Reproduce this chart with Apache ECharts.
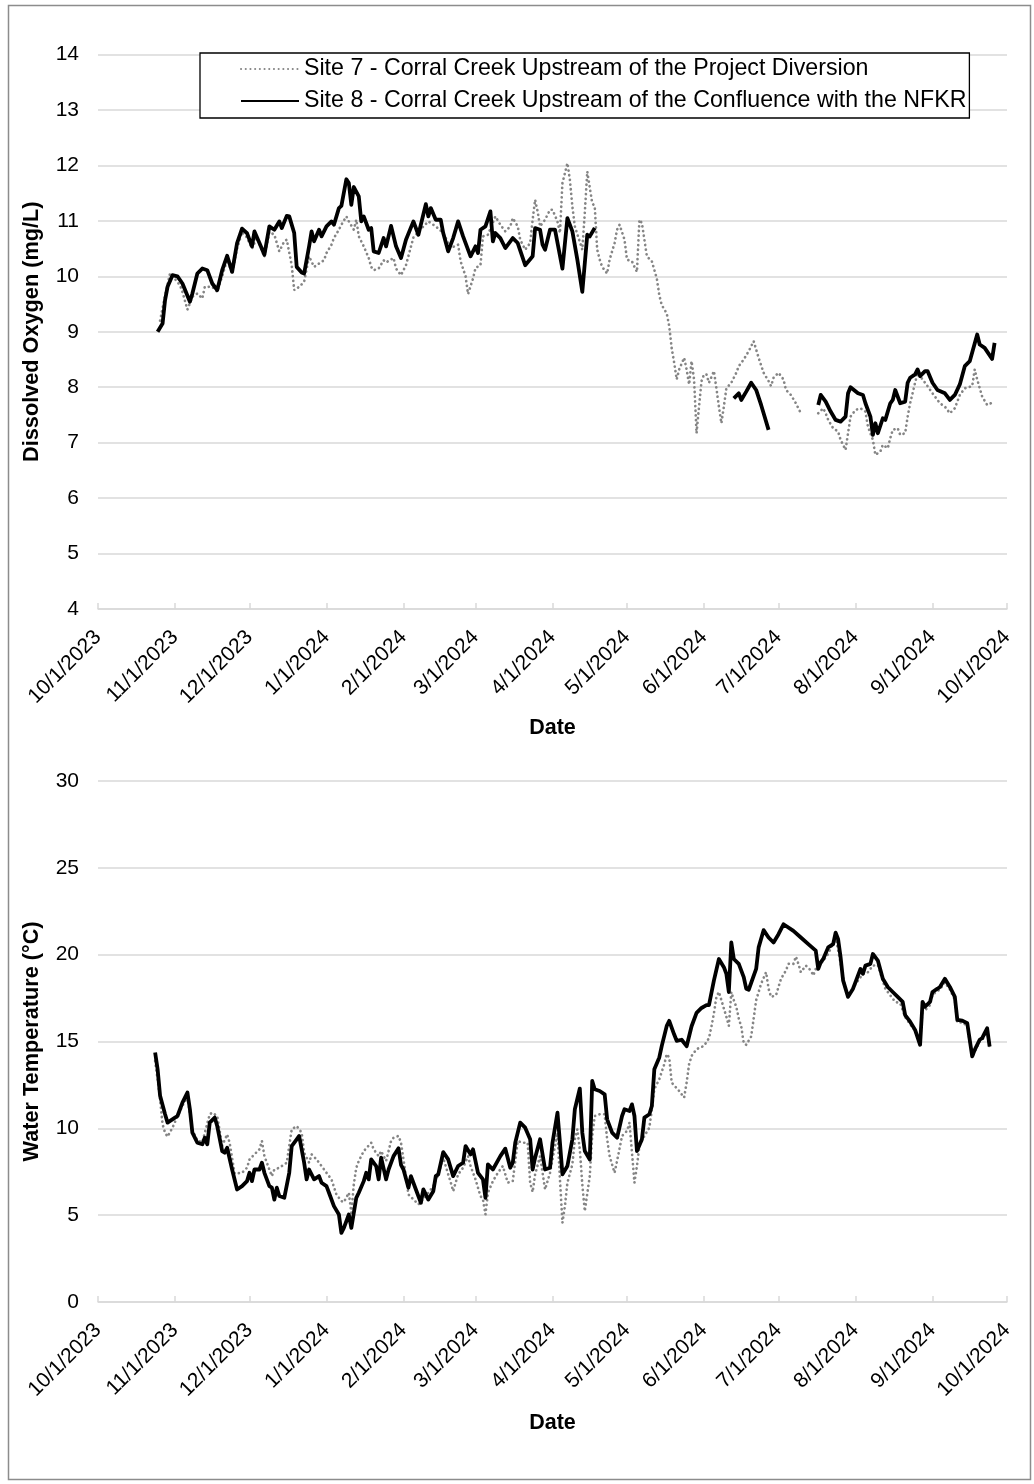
<!DOCTYPE html>
<html><head><meta charset="utf-8">
<script src="https://cdn.jsdelivr.net/npm/echarts@6/dist/echarts.min.js"></script>
<style>html,body{margin:0;padding:0;background:#fff}#chart{width:1034px;height:1484px}</style>
</head><body><div id="chart"></div>
<script>
const seriesNames = ['Site 7 - Corral Creek Upstream of the Project Diversion', 'Site 8 - Corral Creek Upstream of the Confluence with the NFKR'];
const monthTicks = ['2023-10-01','2023-11-01','2023-12-01','2024-01-01','2024-02-01','2024-03-01','2024-04-01','2024-05-01','2024-06-01','2024-07-01','2024-08-01','2024-09-01','2024-10-01'];
const doAxis = {min: 4, max: 14, interval: 1};
const tempAxis = {min: 0, max: 30, interval: 5};

const site7DO = [
['2023-10-26',9.2],['2023-10-28',9.65],['2023-10-30',10.05],['2023-11-01',9.95],['2023-11-03',9.84],['2023-11-04',9.72],['2023-11-06',9.4],['2023-11-08',9.63],['2023-11-10',9.69],['2023-11-12',9.6],['2023-11-13',9.81],['2023-11-16',9.81],['2023-11-18',9.72],['2023-11-20',10.0],['2023-11-22',10.3],['2023-11-24',10.05],['2023-11-26',10.5],['2023-11-28',10.8],['2023-11-30',10.7],
['2023-12-02',10.5],['2023-12-04',10.7],['2023-12-07',10.35],['2023-12-09',10.8],['2023-12-11',10.75],['2023-12-13',10.45],['2023-12-15',10.63],['2023-12-16',10.66],['2023-12-18',10.2],['2023-12-19',9.75],['2023-12-21',9.81],['2023-12-23',9.9],['2023-12-25',10.36],['2023-12-27',10.17],['2023-12-29',10.23],['2023-12-31',10.29],
['2024-01-01',10.42],['2024-01-03',10.57],['2024-01-04',10.69],['2024-01-06',10.84],['2024-01-07',10.93],['2024-01-09',11.08],['2024-01-10',10.99],['2024-01-12',10.84],['2024-01-13',11.02],['2024-01-14',10.72],['2024-01-16',10.54],['2024-01-18',10.33],['2024-01-19',10.17],['2024-01-20',10.11],['2024-01-22',10.14],['2024-01-24',10.29],['2024-01-25',10.25],['2024-01-28',10.33],['2024-01-29',10.14],['2024-01-31',10.02],
['2024-02-02',10.2],['2024-02-05',10.7],['2024-02-08',10.85],['2024-02-11',10.99],['2024-02-14',10.9],['2024-02-17',10.78],['2024-02-20',10.51],['2024-02-23',10.57],['2024-02-24',10.27],['2024-02-26',10.0],['2024-02-27',9.68],['2024-02-29',9.96],
['2024-03-01',10.15],['2024-03-03',10.2],['2024-03-04',10.72],['2024-03-06',10.75],['2024-03-09',11.08],['2024-03-11',10.93],['2024-03-13',10.81],['2024-03-15',10.9],['2024-03-16',11.05],['2024-03-18',10.9],['2024-03-19',10.66],['2024-03-21',10.48],['2024-03-23',10.6],['2024-03-24',11.02],['2024-03-25',11.38],['2024-03-26',11.17],['2024-03-27',10.9],['2024-03-29',11.02],['2024-03-31',11.2],
['2024-04-01',11.2],['2024-04-03',10.99],['2024-04-04',10.78],['2024-04-05',11.68],['2024-04-07',12.04],['2024-04-08',11.74],['2024-04-09',11.26],['2024-04-10',10.9],['2024-04-13',10.48],['2024-04-14',11.14],['2024-04-15',11.89],['2024-04-16',11.6],['2024-04-17',11.32],['2024-04-18',11.26],['2024-04-19',10.48],['2024-04-20',10.3],['2024-04-21',10.17],['2024-04-23',10.05],['2024-04-24',10.3],['2024-04-26',10.6],['2024-04-27',10.84],['2024-04-28',10.93],['2024-04-30',10.66],
['2024-05-01',10.3],['2024-05-03',10.27],['2024-05-04',10.17],['2024-05-05',10.08],['2024-05-06',11.02],['2024-05-07',10.96],['2024-05-08',10.66],['2024-05-09',10.36],['2024-05-11',10.27],['2024-05-13',9.96],['2024-05-14',9.66],['2024-05-15',9.48],['2024-05-17',9.33],['2024-05-18',9.1],['2024-05-19',8.7],['2024-05-20',8.44],['2024-05-21',8.14],['2024-05-22',8.32],['2024-05-24',8.53],['2024-05-25',8.32],['2024-05-26',8.05],['2024-05-27',8.47],['2024-05-28',8.14],['2024-05-29',7.17],['2024-05-30',7.65],['2024-05-31',8.11],
['2024-06-01',8.23],['2024-06-02',8.23],['2024-06-03',8.08],['2024-06-05',8.29],['2024-06-06',7.98],['2024-06-07',7.65],['2024-06-08',7.35],['2024-06-09',7.65],['2024-06-10',7.98],['2024-06-12',8.08],['2024-06-14',8.26],['2024-06-15',8.38],['2024-06-17',8.5],['2024-06-19',8.65],['2024-06-21',8.83],['2024-06-22',8.68],['2024-06-23',8.53],['2024-06-25',8.26],['2024-06-27',8.11],['2024-06-28',8.02],['2024-06-29',8.17],
['2024-07-01',8.26],['2024-07-03',8.14],['2024-07-04',7.95],['2024-07-06',7.86],['2024-07-08',7.71],['2024-07-10',7.53],['2024-07-11',null],['2024-07-17',7.53],['2024-07-19',7.62],['2024-07-20',7.53],['2024-07-21',7.41],['2024-07-23',7.26],['2024-07-25',7.2],['2024-07-26',7.05],['2024-07-28',6.87],['2024-07-29',7.17],['2024-07-30',7.47],
['2024-08-01',7.59],['2024-08-03',7.62],['2024-08-05',7.56],['2024-08-06',7.29],['2024-08-08',7.05],['2024-08-09',6.78],['2024-08-11',6.84],['2024-08-12',6.96],['2024-08-14',6.9],['2024-08-15',7.08],['2024-08-16',7.23],['2024-08-18',7.26],['2024-08-19',7.14],['2024-08-21',7.17],['2024-08-22',7.47],['2024-08-23',7.71],['2024-08-25',8.08],['2024-08-26',8.26],['2024-08-28',8.14],['2024-08-30',8.02],
['2024-09-01',7.89],['2024-09-04',7.71],['2024-09-06',7.65],['2024-09-08',7.53],['2024-09-10',7.62],['2024-09-12',7.86],['2024-09-14',7.98],['2024-09-17',8.02],['2024-09-18',8.32],['2024-09-19',8.14],['2024-09-21',7.83],['2024-09-23',7.68],['2024-09-25',7.72]
];

const site8DO = [
['2023-10-25',9.0],['2023-10-27',9.15],['2023-10-28',9.57],['2023-10-29',9.81],['2023-10-31',10.02],['2023-11-02',10.0],['2023-11-04',9.87],['2023-11-07',9.54],['2023-11-08',9.69],['2023-11-10',10.05],['2023-11-12',10.14],['2023-11-14',10.11],['2023-11-16',9.87],['2023-11-18',9.75],['2023-11-20',10.11],['2023-11-22',10.37],['2023-11-24',10.08],['2023-11-26',10.6],['2023-11-28',10.86],['2023-11-30',10.78],
['2023-12-02',10.54],['2023-12-03',10.81],['2023-12-05',10.6],['2023-12-07',10.39],['2023-12-09',10.9],['2023-12-11',10.84],['2023-12-13',10.99],['2023-12-14',10.87],['2023-12-16',11.09],['2023-12-17',11.08],['2023-12-19',10.78],['2023-12-20',10.17],['2023-12-22',10.07],['2023-12-23',10.05],['2023-12-25',10.54],['2023-12-26',10.81],['2023-12-27',10.63],['2023-12-29',10.84],['2023-12-30',10.72],
['2024-01-01',10.9],['2024-01-03',10.99],['2024-01-04',10.93],['2024-01-06',11.23],['2024-01-07',11.27],['2024-01-09',11.75],['2024-01-10',11.68],['2024-01-11',11.29],['2024-01-12',11.61],['2024-01-14',11.44],['2024-01-15',10.99],['2024-01-16',11.08],['2024-01-18',10.84],['2024-01-19',10.87],['2024-01-20',10.45],['2024-01-22',10.42],['2024-01-24',10.69],['2024-01-25',10.54],['2024-01-27',10.91],['2024-01-29',10.54],['2024-01-31',10.33],
['2024-02-02',10.66],['2024-02-05',10.99],['2024-02-07',10.75],['2024-02-10',11.3],['2024-02-11',11.08],['2024-02-12',11.23],['2024-02-14',11.02],['2024-02-16',11.02],['2024-02-17',10.78],['2024-02-19',10.45],['2024-02-21',10.69],['2024-02-23',10.99],['2024-02-25',10.72],['2024-02-28',10.36],
['2024-03-01',10.54],['2024-03-02',10.42],['2024-03-03',10.84],['2024-03-05',10.9],['2024-03-07',11.17],['2024-03-08',10.63],['2024-03-09',10.78],['2024-03-11',10.69],['2024-03-13',10.51],['2024-03-16',10.69],['2024-03-18',10.6],['2024-03-21',10.2],['2024-03-24',10.36],['2024-03-25',10.87],['2024-03-27',10.84],['2024-03-28',10.57],['2024-03-29',10.48],['2024-03-31',10.84],
['2024-04-02',10.84],['2024-04-05',10.14],['2024-04-07',11.05],['2024-04-09',10.81],['2024-04-11',10.3],['2024-04-13',9.72],['2024-04-15',10.75],['2024-04-16',10.72],['2024-04-18',10.87],['2024-04-19',null],
['2024-06-13',7.8],['2024-06-15',7.89],['2024-06-16',7.77],['2024-06-18',7.92],['2024-06-20',8.08],['2024-06-22',7.95],['2024-06-24',7.68],['2024-06-25',7.53],['2024-06-27',7.23],['2024-06-28',null],
['2024-07-17',7.68],['2024-07-18',7.86],['2024-07-20',7.74],['2024-07-22',7.56],['2024-07-24',7.41],['2024-07-26',7.38],['2024-07-28',7.47],['2024-07-29',7.89],['2024-07-30',8.0],
['2024-08-02',7.89],['2024-08-04',7.86],['2024-08-05',7.71],['2024-08-07',7.47],['2024-08-08',7.14],['2024-08-09',7.35],['2024-08-10',7.17],['2024-08-12',7.44],['2024-08-13',7.41],['2024-08-15',7.71],['2024-08-16',7.77],['2024-08-17',7.95],['2024-08-19',7.71],['2024-08-21',7.74],['2024-08-22',8.08],['2024-08-23',8.17],['2024-08-25',8.23],['2024-08-26',8.32],['2024-08-27',8.2],['2024-08-29',8.29],['2024-08-30',8.29],
['2024-09-01',8.08],['2024-09-03',7.95],['2024-09-06',7.89],['2024-09-08',7.77],['2024-09-10',7.86],['2024-09-12',8.05],['2024-09-14',8.38],['2024-09-16',8.47],['2024-09-19',8.95],['2024-09-20',8.77],['2024-09-22',8.71],['2024-09-25',8.51],['2024-09-26',8.8]
];

const site7Temp = [
['2023-10-24',13.88],['2023-10-25',12.83],['2023-10-26',11.67],['2023-10-27',10.23],['2023-10-28',9.75],['2023-10-29',9.52],['2023-10-31',10.04],['2023-11-01',10.37],['2023-11-04',11.3],['2023-11-06',11.8],['2023-11-08',9.9],['2023-11-10',9.3],['2023-11-12',9.2],['2023-11-15',10.81],['2023-11-16',10.9],['2023-11-18',10.71],['2023-11-20',9.0],['2023-11-22',9.65],['2023-11-23',9.17],['2023-11-25',7.4],['2023-11-28',7.44],['2023-11-30',7.73],
['2023-12-01',8.21],['2023-12-03',8.5],['2023-12-05',8.79],['2023-12-06',9.27],['2023-12-07',8.4],['2023-12-09',7.63],['2023-12-10',7.25],['2023-12-11',7.63],['2023-12-13',7.73],['2023-12-16',8.02],['2023-12-17',8.98],['2023-12-18',9.94],['2023-12-20',10.13],['2023-12-22',9.75],['2023-12-23',8.6],['2023-12-25',8.02],['2023-12-26',8.5],['2023-12-28',8.21],['2023-12-30',7.83],
['2024-01-01',7.44],['2024-01-03',7.06],['2024-01-05',6.19],['2024-01-07',5.81],['2024-01-08',5.75],['2024-01-10',6.29],['2024-01-11',5.13],['2024-01-12',6.77],['2024-01-13',7.73],['2024-01-14',8.12],['2024-01-16',8.69],['2024-01-19',9.17],['2024-01-20',8.79],['2024-01-22',8.4],['2024-01-23',8.69],['2024-01-25',8.12],['2024-01-27',9.27],['2024-01-28',9.46],['2024-01-30',9.56],['2024-01-31',9.17],
['2024-02-01',8.21],['2024-02-03',6.19],['2024-02-07',5.62],['2024-02-10',6.1],['2024-02-13',6.67],['2024-02-15',7.35],['2024-02-17',8.31],['2024-02-19',7.35],['2024-02-20',6.9],['2024-02-21',6.38],['2024-02-23',7.35],['2024-02-25',7.73],['2024-02-27',8.4],['2024-02-28',7.83],
['2024-03-01',7.06],['2024-03-03',6.1],['2024-03-04',5.9],['2024-03-05',5.04],['2024-03-06',6.29],['2024-03-08',6.96],['2024-03-10',7.44],['2024-03-12',7.83],['2024-03-14',6.87],['2024-03-16',6.96],['2024-03-18',9.27],['2024-03-20',9.17],['2024-03-22',9.17],['2024-03-23',6.87],['2024-03-24',6.33],['2024-03-25',7.35],['2024-03-27',8.4],['2024-03-28',7.44],['2024-03-29',6.48],['2024-03-31',7.44],
['2024-04-01',8.21],['2024-04-03',9.75],['2024-04-04',7.06],['2024-04-05',4.56],['2024-04-06',5.52],['2024-04-07',6.87],['2024-04-09',7.92],['2024-04-10',9.37],['2024-04-11',9.94],['2024-04-12',8.79],['2024-04-13',6.77],['2024-04-14',5.23],['2024-04-16',7.25],['2024-04-17',9.56],['2024-04-18',10.71],['2024-04-20',10.81],['2024-04-22',10.81],['2024-04-23',9.37],['2024-04-24',8.4],['2024-04-26',7.44],['2024-04-27',8.12],['2024-04-29',9.56],
['2024-05-01',9.85],['2024-05-02',10.33],['2024-05-04',6.87],['2024-05-05',7.83],['2024-05-06',8.98],['2024-05-08',9.56],['2024-05-10',10.04],['2024-05-11',11.1],['2024-05-12',12.25],['2024-05-14',12.83],['2024-05-16',13.69],['2024-05-17',14.27],['2024-05-18',14.08],['2024-05-19',12.63],['2024-05-22',12.15],['2024-05-24',11.77],['2024-05-25',12.63],['2024-05-26',13.69],['2024-05-27',14.17],['2024-05-29',14.56],
['2024-06-01',14.75],['2024-06-03',15.19],['2024-06-04',15.86],['2024-06-05',16.62],['2024-06-06',17.57],['2024-06-07',17.85],['2024-06-08',17.38],['2024-06-09',16.9],['2024-06-10',16.43],['2024-06-11',15.9],['2024-06-12',17.85],['2024-06-13',17.38],['2024-06-14',17.0],['2024-06-15',16.33],['2024-06-16',15.86],['2024-06-17',14.9],['2024-06-18',14.81],['2024-06-20',15.29],['2024-06-21',16.33],['2024-06-22',17.38],['2024-06-24',18.33],['2024-06-26',18.99],['2024-06-27',18.04],['2024-06-28',17.57],['2024-06-30',17.66],
['2024-07-01',18.14],['2024-07-02',18.61],['2024-07-04',19.09],['2024-07-05',19.47],['2024-07-07',19.47],['2024-07-08',19.89],['2024-07-09',19.47],['2024-07-10',18.99],['2024-07-12',19.37],['2024-07-14',19.09],['2024-07-15',18.8],['2024-07-16',19.18],['2024-07-18',19.47],['2024-07-21',20.04],['2024-07-24',21.0],['2024-07-26',19.5],['2024-07-28',17.95],['2024-07-29',17.57],
['2024-08-01',18.3],['2024-08-04',18.9],['2024-08-06',18.99],['2024-08-07',19.18],['2024-08-08',19.37],['2024-08-10',19.4],['2024-08-13',18.04],['2024-08-15',17.66],['2024-08-17',17.28],['2024-08-19',17.2],['2024-08-21',16.4],['2024-08-23',16.0],['2024-08-25',15.6],['2024-08-27',15.0],['2024-08-28',16.9],['2024-08-29',16.8],['2024-08-31',17.1],
['2024-09-01',17.7],['2024-09-03',17.9],['2024-09-04',18.0],['2024-09-06',18.4],['2024-09-08',18.0],['2024-09-10',17.4],['2024-09-11',16.1],['2024-09-13',16.1],['2024-09-15',15.9],['2024-09-17',14.1],['2024-09-18',14.4],['2024-09-20',15.0],['2024-09-21',15.1],['2024-09-22',15.3],['2024-09-23',15.6],['2024-09-24',14.6]
];

const site8Temp = [
['2023-10-24',14.37],['2023-10-25',13.4],['2023-10-26',11.87],['2023-10-28',10.81],['2023-10-29',10.33],['2023-11-01',10.62],['2023-11-02',10.71],['2023-11-04',11.48],['2023-11-06',12.06],['2023-11-07',11.1],['2023-11-08',9.75],['2023-11-10',9.17],['2023-11-12',9.08],['2023-11-13',9.46],['2023-11-14',9.08],['2023-11-15',10.33],['2023-11-17',10.62],['2023-11-18',10.13],['2023-11-20',8.69],['2023-11-21',8.6],['2023-11-22',8.88],['2023-11-24',7.63],['2023-11-26',6.48],['2023-11-28',6.67],['2023-11-30',6.96],
['2023-12-01',7.44],['2023-12-02',6.96],['2023-12-03',7.63],['2023-12-05',7.63],['2023-12-06',8.02],['2023-12-07',7.44],['2023-12-09',6.67],['2023-12-10',6.58],['2023-12-11',5.9],['2023-12-12',6.58],['2023-12-13',6.1],['2023-12-15',6.0],['2023-12-17',7.44],['2023-12-18',8.98],['2023-12-20',9.37],['2023-12-21',9.56],['2023-12-23',8.02],['2023-12-24',7.06],['2023-12-25',7.63],['2023-12-27',7.06],['2023-12-29',7.25],['2023-12-30',6.87],
['2024-01-01',6.67],['2024-01-02',6.29],['2024-01-04',5.52],['2024-01-06',5.04],['2024-01-07',3.98],['2024-01-08',4.27],['2024-01-10',5.04],['2024-01-11',4.27],['2024-01-13',6.0],['2024-01-14',6.29],['2024-01-16',6.96],['2024-01-17',7.44],['2024-01-18',7.06],['2024-01-19',8.21],['2024-01-21',7.83],['2024-01-22',7.06],['2024-01-23',8.31],['2024-01-25',7.06],['2024-01-26',7.63],['2024-01-28',8.4],['2024-01-30',8.85],['2024-01-31',7.9],
['2024-02-01',7.63],['2024-02-03',6.58],['2024-02-04',7.25],['2024-02-06',6.48],['2024-02-08',5.71],['2024-02-09',6.48],['2024-02-11',5.9],['2024-02-13',6.38],['2024-02-14',7.25],['2024-02-15',7.35],['2024-02-17',8.63],['2024-02-19',8.21],['2024-02-21',7.25],['2024-02-23',7.83],['2024-02-25',8.02],['2024-02-26',8.98],['2024-02-28',8.5],['2024-02-29',8.79],
['2024-03-02',7.44],['2024-03-04',7.06],['2024-03-05',6.0],['2024-03-06',7.92],['2024-03-08',7.63],['2024-03-11',8.4],['2024-03-13',8.83],['2024-03-15',7.73],['2024-03-16',8.02],['2024-03-17',9.17],['2024-03-19',10.33],['2024-03-21',10.04],['2024-03-23',9.37],['2024-03-24',7.63],['2024-03-25',8.31],['2024-03-27',9.37],['2024-03-29',7.63],['2024-03-31',7.73],
['2024-04-01',9.17],['2024-04-03',10.9],['2024-04-04',9.17],['2024-04-05',7.35],['2024-04-07',7.83],['2024-04-09',9.37],['2024-04-10',11.1],['2024-04-12',12.29],['2024-04-13',9.75],['2024-04-14',8.69],['2024-04-16',8.21],['2024-04-17',12.73],['2024-04-18',12.25],['2024-04-20',12.15],['2024-04-22',11.96],['2024-04-23',10.52],['2024-04-25',9.75],['2024-04-27',9.46],['2024-04-29',10.71],['2024-04-30',11.1],
['2024-05-02',11.0],['2024-05-03',11.38],['2024-05-04',10.71],['2024-05-05',8.69],['2024-05-07',9.37],['2024-05-08',10.62],['2024-05-10',10.81],['2024-05-11',11.29],['2024-05-12',13.4],['2024-05-14',14.08],['2024-05-15',14.75],['2024-05-17',15.9],['2024-05-18',16.19],['2024-05-20',15.4],['2024-05-21',15.04],['2024-05-23',15.1],['2024-05-25',14.73],['2024-05-27',15.88],['2024-05-29',16.65],['2024-05-31',16.93],
['2024-06-02',17.09],['2024-06-03',17.1],['2024-06-05',18.52],['2024-06-07',19.75],['2024-06-09',19.28],['2024-06-10',18.9],['2024-06-11',17.85],['2024-06-12',20.7],['2024-06-13',19.75],['2024-06-15',19.47],['2024-06-17',18.71],['2024-06-18',18.04],['2024-06-19',17.98],['2024-06-22',19.18],['2024-06-23',20.42],['2024-06-25',21.41],['2024-06-27',20.99],['2024-06-29',20.7],
['2024-07-01',21.18],['2024-07-03',21.75],['2024-07-07',21.37],['2024-07-10',20.99],['2024-07-13',20.61],['2024-07-16',20.23],['2024-07-17',19.18],['2024-07-18',19.56],['2024-07-19',19.75],['2024-07-21',20.42],['2024-07-23',20.61],['2024-07-24',21.27],['2024-07-25',20.89],['2024-07-26',19.85],['2024-07-27',18.52],['2024-07-29',17.57],['2024-07-31',18.04],
['2024-08-01',18.42],['2024-08-03',19.18],['2024-08-04',18.9],['2024-08-05',19.37],['2024-08-07',19.47],['2024-08-08',20.04],['2024-08-10',19.66],['2024-08-12',18.61],['2024-08-14',18.14],['2024-08-16',17.85],['2024-08-18',17.57],['2024-08-20',17.28],['2024-08-21',16.52],['2024-08-23',16.14],['2024-08-25',15.67],['2024-08-27',14.81],['2024-08-28',17.28],['2024-08-29',17.0],['2024-08-31',17.28],
['2024-09-01',17.85],['2024-09-03',18.04],['2024-09-04',18.14],['2024-09-06',18.61],['2024-09-08',18.14],['2024-09-10',17.57],['2024-09-11',16.24],['2024-09-13',16.2],['2024-09-15',16.05],['2024-09-17',14.14],['2024-09-18',14.52],['2024-09-20',15.1],['2024-09-21',15.19],['2024-09-22',15.48],['2024-09-23',15.76],['2024-09-24',14.71]
];

const FONT = 'Arial, "Liberation Sans", sans-serif';
function ts(s) { const p = s.split('-').map(Number); return new Date(p[0], p[1] - 1, p[2]).getTime(); }
function prep(arr) { return arr.map(d => [ts(d[0]), d[1] == null ? '-' : d[1]]); }
function fmtDate(v) { const d = new Date(v); return (d.getMonth() + 1) + '/' + d.getDate() + '/' + d.getFullYear(); }
const tickVals = monthTicks.map(ts);
const GRID_C = '#d9d9d9';

function xAxisCfg(gridIndex, gap) {
  return {
    type: 'value', gridIndex, scale: true,
    min: tickVals[0], max: tickVals[tickVals.length - 1],
    name: 'Date', nameLocation: 'middle', nameGap: gap,
    nameTextStyle: {fontFamily: FONT, fontSize: 21.5, fontWeight: 'bold', color: '#000', verticalAlign: 'top'},
    axisLine: {show: true, onZero: false, lineStyle: {color: GRID_C, width: 1.5}},
    axisTick: {show: true, inside: true, length: 6, lineStyle: {color: GRID_C, width: 1.5}, customValues: tickVals},
    axisLabel: {show: true, rotate: 45, margin: 25, fontFamily: FONT, fontSize: 21, color: '#000',
      customValues: tickVals, formatter: fmtDate, showMinLabel: true, showMaxLabel: true, hideOverlap: false},
    splitLine: {show: false}, minorTick: {show: false}
  };
}
function yAxisCfg(gridIndex, rng, name) {
  return {
    type: 'value', gridIndex, min: rng.min, max: rng.max, interval: rng.interval,
    name, nameLocation: 'middle', nameGap: 55,
    nameTextStyle: {fontFamily: FONT, fontSize: 21.7, fontWeight: 'bold', color: '#000'},
    axisLine: {show: false}, axisTick: {show: false},
    axisLabel: {margin: 19, fontFamily: FONT, fontSize: 21, color: '#000'},
    splitLine: {show: true, lineStyle: {color: GRID_C, width: 1.5}}
  };
}
function dotted(name, data, xi) {
  return {name, type: 'line', xAxisIndex: xi, yAxisIndex: xi, data: prep(data), symbol: 'none', connectNulls: false,
    lineStyle: {color: '#858585', width: 2.7, type: [0.1, 4.6], cap: 'round'}, itemStyle: {color: '#858585'}, z: 2};
}
function solid(name, data, xi) {
  return {name, type: 'line', xAxisIndex: xi, yAxisIndex: xi, data: prep(data), symbol: 'none', connectNulls: false,
    lineStyle: {color: '#000', width: 3.8, join: 'round'}, itemStyle: {color: '#000'}, z: 3};
}

const chart = echarts.init(document.getElementById('chart'), null, {renderer: 'canvas'});
chart.setOption({
  animation: false,
  backgroundColor: '#fff',
  textStyle: {fontFamily: FONT},
  grid: [
    {left: 98, right: 27, top: 54.5, height: 554.5, containLabel: false},
    {left: 98, right: 27, top: 781, height: 521, containLabel: false}
  ],
  xAxis: [xAxisCfg(0, 108), xAxisCfg(1, 110)],
  yAxis: [yAxisCfg(0, doAxis, 'Dissolved Oxygen (mg/L)'), yAxisCfg(1, tempAxis, 'Water Temperature (°C)')],
  legend: {
    left: 200, top: 53, orient: 'vertical',
    backgroundColor: '#fff', borderColor: '#000', borderWidth: 1.3, borderRadius: 0,
    padding: [4, 3, 5, 40], itemWidth: 58, itemHeight: 14, itemGap: 8,
    itemStyle: {opacity: 0},
    textStyle: {fontFamily: FONT, fontSize: 23.2, color: '#000', lineHeight: 24},
    data: seriesNames, selectedMode: false
  },
  graphic: [{type: 'rect', shape: {x: 8.5, y: 5.5, width: 1022, height: 1474}, style: {fill: 'none', stroke: '#8c8c8c', lineWidth: 1.5}, silent: true, z: -10}],
  series: [
    dotted(seriesNames[0], site7DO, 0), solid(seriesNames[1], site8DO, 0),
    dotted(seriesNames[0], site7Temp, 1), solid(seriesNames[1], site8Temp, 1)
  ]
});
</script></body></html>
